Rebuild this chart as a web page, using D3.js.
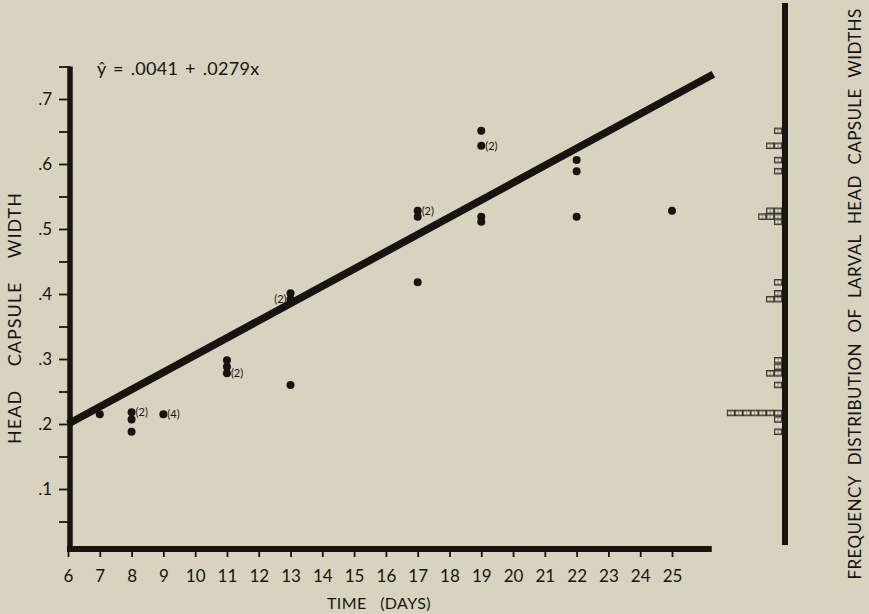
<!DOCTYPE html>
<html>
<head>
<meta charset="utf-8">
<script src="https://cdn.jsdelivr.net/npm/d3@7"></script>
<style>
  html, body { margin: 0; padding: 0; background: #d8d3bf; }
  svg { display: block; font-family: Lato, "DejaVu Sans", sans-serif; }
</style>
</head>
<body>
<div id="chart"></div>
<script>
// scatter: day, head capsule width, number of larvae at that point
var days   = [7, 8, 8, 8, 9, 11, 11, 11, 13, 13, 13, 17, 17, 17, 19, 19, 19, 19, 22, 22, 22, 25];
var widths = [0.215, 0.218, 0.207, 0.188, 0.215, 0.298, 0.288, 0.278, 0.401, 0.392, 0.26,
              0.528, 0.519, 0.418, 0.651, 0.628, 0.519, 0.511, 0.606, 0.589, 0.519, 0.528];
var counts = [1, 2, 1, 1, 4, 1, 1, 2, 1, 2, 1, 2, 1, 1, 1, 2, 1, 1, 1, 1, 1, 1];

// fitted line as drawn (ends)
var fitDays = [6, 26.3];
var fitWidths = [0.2, 0.738];

// frequency distribution on the right
var freqWidths = [0.651, 0.628, 0.606, 0.589, 0.528, 0.519, 0.511, 0.418, 0.401, 0.392,
                  0.298, 0.288, 0.278, 0.26, 0.217, 0.207, 0.188];
var freqCounts = [1, 2, 1, 1, 2, 3, 1, 1, 1, 2, 1, 1, 2, 1, 7, 1, 1];

var xTicks = d3.range(6, 26);
var yTicks = d3.range(1, 16).map(function(i) { return i * 0.05; });

var equation = "\u0177 = .0041 + .0279x";
var xTitle = "TIME (DAYS)";
var yTitle = "HEAD CAPSULE WIDTH";
var rightTitle = "FREQUENCY DISTRIBUTION OF LARVAL HEAD CAPSULE WIDTHS";

var ink = "#161311";
var W = 869, H = 614;

var svg = d3.select("#chart").append("svg")
    .attr("width", W)
    .attr("height", H);

var x = d3.scaleLinear().domain([6, 25]).range([68, 672]);
var y = d3.scaleLinear().domain([0, 0.7]).range([554, 99]);

var axisY = 549, axisX = 70;

// x axis
var xAxis = svg.append("g")
    .attr("transform", "translate(0," + axisY + ")")
    .call(d3.axisBottom(x).tickValues(xTicks).tickSize(8).tickPadding(13).tickSizeOuter(0));
xAxis.select(".domain").remove();
xAxis.selectAll("line").attr("stroke", ink).attr("stroke-width", 1.8);
xAxis.selectAll("text").attr("fill", ink).style("font-size", "17px").style("font-family", "Lato");

svg.append("line")
    .attr("x1", axisX - 3).attr("x2", x(26.25))
    .attr("y1", axisY).attr("y2", axisY)
    .attr("stroke", ink).attr("stroke-width", 6);

// y axis
var yAxis = svg.append("g")
    .attr("transform", "translate(" + axisX + ",0)")
    .call(d3.axisLeft(y).tickValues(yTicks).tickSize(11).tickPadding(7)
        .tickFormat(function(d) {
            var k = Math.round(d * 20);
            return k % 2 === 0 ? "." + (k / 2) : "";
        }));
yAxis.select(".domain").remove();
yAxis.selectAll("line").attr("stroke", ink).attr("stroke-width", 1.8);
yAxis.selectAll("text").attr("fill", ink).style("font-size", "17px").style("font-family", "Lato");

svg.append("line")
    .attr("x1", axisX).attr("x2", axisX)
    .attr("y1", y(0.75)).attr("y2", axisY + 3)
    .attr("stroke", ink).attr("stroke-width", 5.5);

// axis titles
svg.append("text")
    .attr("x", 379).attr("y", 609)
    .attr("text-anchor", "middle")
    .attr("fill", ink)
    .style("font-size", "16px")
    .style("letter-spacing", "0.4px")
    .style("word-spacing", "9px")
    .text(xTitle);

svg.append("text")
    .attr("transform", "translate(21,318) rotate(-90)")
    .attr("text-anchor", "middle")
    .attr("fill", ink)
    .style("font-size", "18px")
    .style("letter-spacing", "1px")
    .style("word-spacing", "18px")
    .text(yTitle);

svg.append("text")
    .attr("x", 97).attr("y", 75)
    .attr("fill", ink)
    .style("font-size", "18px")
    .style("letter-spacing", "0.3px")
    .style("word-spacing", "2px")
    .text(equation);

// fitted line
var line = d3.line()
    .x(function(d) { return x(d[0]); })
    .y(function(d) { return y(d[1]); });

svg.append("path")
    .datum(d3.zip(fitDays, fitWidths))
    .attr("d", line)
    .attr("fill", "none")
    .attr("stroke", ink)
    .attr("stroke-width", 7.5);

// points
var pts = d3.range(days.length).map(function(i) {
    return { day: days[i], w: widths[i], n: counts[i] };
});

svg.selectAll("circle.pt")
    .data(pts)
    .enter()
    .append("circle")
    .attr("class", "pt")
    .attr("cx", function(d) { return x(d.day); })
    .attr("cy", function(d) { return y(d.w); })
    .attr("r", 4)
    .attr("fill", ink);

svg.selectAll("text.cnt")
    .data(pts.filter(function(d) { return d.n > 1; }))
    .enter()
    .append("text")
    .attr("class", "cnt")
    .attr("x", function(d) { return d.day === 13 ? x(d.day) - 4 : x(d.day) + 4; })
    .attr("y", function(d) { return y(d.w) + 4; })
    .attr("text-anchor", function(d) { return d.day === 13 ? "end" : "start"; })
    .attr("fill", ink)
    .style("font-size", "11px")
    .text(function(d) { return "(" + d.n + ")"; });

// frequency distribution panel
var fx = d3.scaleLinear().domain([0, 7]).range([782, 727]);
var cellW = fx(0) - fx(1);

var cells = [];
freqWidths.forEach(function(w, i) {
    for (var k = 0; k < freqCounts[i]; k++) cells.push({ w: w, k: k });
});

var cellG = svg.selectAll("g.cell")
    .data(cells)
    .enter()
    .append("g")
    .attr("class", "cell")
    .attr("transform", function(d) { return "translate(" + fx(d.k + 1) + "," + (y(d.w) - 2.8) + ")"; });

cellG.append("rect")
    .attr("x", 0.3).attr("y", 0)
    .attr("width", cellW - 0.6).attr("height", 5.6)
    .attr("fill", "#8e897d")
    .attr("stroke", "#2f2b26")
    .attr("stroke-width", 0.9);
cellG.selectAll("circle")
    .data([0.3, 0.7])
    .enter()
    .append("circle")
    .attr("cx", function(d) { return d * cellW; })
    .attr("cy", 2.8)
    .attr("r", 1.2)
    .attr("fill", "#e4e0d2");

svg.append("line")
    .attr("x1", 785).attr("x2", 785)
    .attr("y1", 3).attr("y2", 545)
    .attr("stroke", ink).attr("stroke-width", 6);

svg.append("text")
    .attr("transform", "translate(861,294) rotate(-90)")
    .attr("text-anchor", "middle")
    .attr("fill", ink)
    .style("font-size", "17px")
    .style("letter-spacing", "0.4px")
    .style("word-spacing", "6px")
    .text(rightTitle);
</script>
</body>
</html>
